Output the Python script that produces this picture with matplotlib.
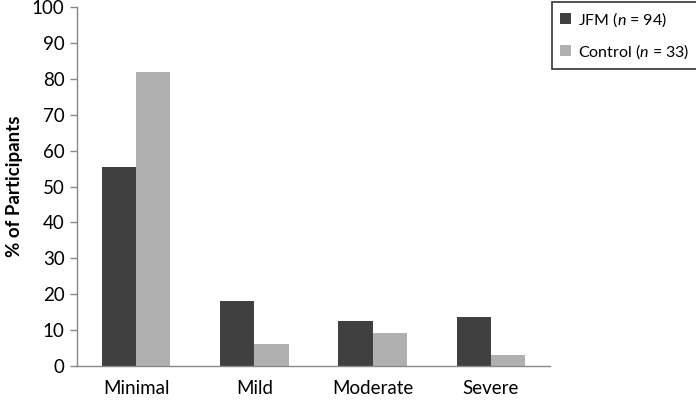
import matplotlib
matplotlib.use("Agg")
import matplotlib.pyplot as plt
import numpy as np

categories = ["Minimal", "Mild", "Moderate", "Severe"]
jfm = [55.3, 18.1, 12.6, 13.6]
control = [81.8, 6.1, 9.1, 3.0]
series_labels = ["JFM ($\\it{n}$ = 94)", "Control ($\\it{n}$ = 33)"]
yticks = list(range(0, 101, 10))

plt.rcParams['font.family'] = ['Lato', 'DejaVu Sans']
plt.rcParams['mathtext.fontset'] = 'custom'
plt.rcParams['mathtext.it'] = 'Lato:italic'
plt.rcParams['mathtext.rm'] = 'Lato'

fig = plt.figure(figsize=(6.96, 4.0), dpi=100)
ax = fig.add_axes([77/696, 1-366/400, (550-77)/696, (366-7)/400])

x = np.arange(len(categories))
w = 0.29
b1 = ax.bar(x - w/2, jfm, w, color="#404040", label=series_labels[0])
b2 = ax.bar(x + w/2, control, w, color="#b0b0b0", label=series_labels[1])

ax.set_xlim(-0.5, len(categories) - 0.5)
ax.set_ylim(0, 100)
ax.set_yticks(yticks)
ax.set_xticks(x)
ax.set_xticklabels(categories, fontsize=13.5)
ax.tick_params(axis='y', labelsize=13.5, length=5, color="#888888", width=1, pad=4)
ax.tick_params(axis='x', length=0, pad=10)
for s in ["top", "right"]:
    ax.spines[s].set_visible(False)
for s in ["left", "bottom"]:
    ax.spines[s].set_color("#888888")
    ax.spines[s].set_linewidth(1)
ax.set_ylabel("% of Participants", fontsize=13.5, fontweight="bold", labelpad=6)

leg = fig.legend(handles=[b1, b2], labels=series_labels, loc="upper left",
                 bbox_to_anchor=(552/696, 1-2/400), frameon=True, fancybox=False,
                 edgecolor="black", fontsize=11.5, handlelength=0.7, handleheight=0.7,
                 handletextpad=0.4, labelspacing=0.85, borderpad=0.5, borderaxespad=0)
leg.get_frame().set_linewidth(1.2)

fig.savefig("out.png", dpi=100)
